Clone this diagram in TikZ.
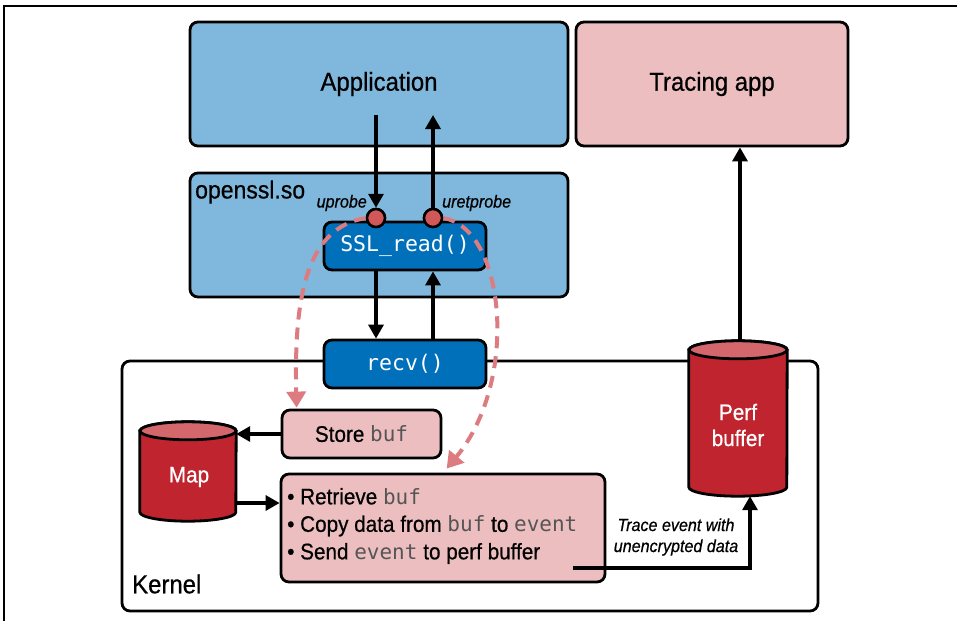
\documentclass[tikz,border=0pt]{standalone}
\usepackage{fontspec}
\setmainfont{Liberation Sans}[FakeStretch=0.92,FakeBold=0.6]
\setmonofont{DejaVu Sans Mono}
\usetikzlibrary{arrows.meta,calc}
\definecolor{lblue}{HTML}{80B8DD}
\definecolor{dblue}{HTML}{0070BB}
\definecolor{lpink}{HTML}{EDBEC0}
\definecolor{cylred}{HTML}{C0242E}
\definecolor{cyltop}{HTML}{D4676B}
\definecolor{probe}{HTML}{D15759}
\definecolor{dashpink}{HTML}{DC7B80}
\definecolor{codegray}{HTML}{555555}
\newcommand\mycyl[2]{%
  \path[draw=black,line width=2.8,fill=cylred]
    (#1.north west) -- (#1.south west)
    arc[start angle=180,end angle=360,x radius=#2pt,y radius=9pt]
    -- (#1.north east)
    arc[start angle=0,end angle=180,x radius=#2pt,y radius=9pt] -- cycle;
  \path[draw=black,line width=2.8,fill=cyltop] (#1.north) ellipse[x radius=#2pt,y radius=9pt];}
\newcommand\cc[1]{{\fontsize{21}{24}\selectfont\ttfamily\color{codegray}#1}}
\begin{document}
\begin{tikzpicture}[x=1pt,y=-1pt,
  box/.style={draw,line width=2.8,rounded corners=8,inner sep=0,align=center},
  lbox/.style={box,fill=lblue},
  pbox/.style={box,fill=lpink},
  dbox/.style={box,fill=dblue,text=white,font=\fontsize{21.5}{24}\selectfont\ttfamily},
  head/.style={font=\fontsize{26}{30}\selectfont},
  body/.style={font=\fontsize{22.5}{27}\selectfont},
  itl/.style={font=\fontsize{17.5}{21}\selectfont\itshape},
  arr/.style={line width=3.3,-{Triangle[width=15pt,length=14pt]}},
  dasharr/.style={line width=4,dashpink,dash pattern=on 12pt off 8pt,
    -{Triangle[width=19pt,length=16pt,fill=dashpink]}},
  probecirc/.style={circle,draw,line width=2.5,fill=probe,minimum size=18pt,inner sep=0},
  cylnode/.style={inner sep=0,text=white,align=center,font=\fontsize{22.5}{26}\selectfont}]
\useasboundingbox (0,0) rectangle (957,621);
\draw[line width=1.5] (4,621) -- (4,6) -- (957,6);

% top boxes
\node[lbox,head,minimum width=378pt,minimum height=124pt] (app) at (379,84) {Application};
\node[pbox,head,minimum width=272pt,minimum height=124pt] (trace) at (712,84) {Tracing app};

% openssl
\node[lbox,minimum width=378pt,minimum height=124pt] (ssl) at (379,235) {};
\node[anchor=west,inner sep=0,font=\fontsize{25}{28}\selectfont] (ssllbl) at (195,192) {openssl.so};
\node[dbox,minimum width=162pt,minimum height=48pt] (sslread) at (405,246) {SSL\_read()};

% kernel
\node[box,minimum width=696pt,minimum height=250pt] (kernel) at (470,486) {};
\node[anchor=west,inner sep=0,font=\fontsize{26}{28}\selectfont] (klbl) at (132,584) {Kernel};
\node[dbox,minimum width=162pt,minimum height=48pt] (recv) at (405,364) {recv()};

\node[pbox,body,minimum width=159pt,minimum height=48pt] (store) at (361.5,434) {Store \cc{buf}};
\node[pbox,minimum width=324pt,minimum height=108pt] (retrieve) at (443,528) {};
\node[anchor=west,inner sep=0,align=left,body,font=\fontsize{22.5}{27.5}\selectfont] (rtext) at (287,526)
  {• Retrieve \cc{buf}\\• Copy data from \cc{buf} to \cc{event}\\• Send \cc{event} to perf buffer};

% cylinders
\node[cylnode,minimum width=96pt,minimum height=81pt] (map) at (188,471.5) {};
\mycyl{map}{48}
\node[cylnode] (maptxt) at (189,477) {Map};
\node[cylnode,minimum width=98pt,minimum height=137pt] (perf) at (738,418.5) {};
\mycyl{perf}{49}
\node[cylnode,font=\fontsize{22.5}{26}\selectfont] (perftxt) at (738,425) {Perf\\buffer};

% probe points
\node[probecirc] (up) at (376,218) {};
\node[probecirc] (uret) at (433,218) {};
\node[itl,anchor=east,inner sep=0] (uplbl) at (367,203) {uprobe};
\node[itl,anchor=west,inner sep=0] (uretlbl) at (442,203) {uretprobe};

% dashed probe flows
\draw[dasharr] (up.west) .. controls (305,228) and (294,300) .. ($(store.north west)+(16,-1)$);
\draw[dasharr] (uret.east) .. controls (505,228) and (520,380) .. ($(retrieve.north west)+(167,-4)$);
\node[probecirc] at (up) {};
\node[probecirc] at (uret) {};

% solid arrows
\coordinate (appout) at (376,115);
\coordinate (appin) at (433,115);
\draw[arr] (appout) -- (up.north);
\draw[arr] (uret.north) -- (appin);
\draw[arr] (sslread.south -| up) -- (recv.north -| up);
\draw[arr] (recv.north -| uret) -- (sslread.south -| uret);
\draw[arr] ($(perf.north)+(2,-9)$) -- (trace.south -| {$(perf.north)+(2,0)$});
\draw[arr] (store.west) -- (store.west -| map.east);
\coordinate (mapout) at ($(map.east)+(0,31.5)$);
\draw[arr] (mapout) -- (mapout -| retrieve.west);
\coordinate (trstart) at (573,568);
\coordinate (perfin) at ($(perf.south)+(12,9)$);
\draw[line width=3.3,-{Triangle[width=15pt,length=14pt]}] (trstart) -| (perfin);
\node[itl,align=center,inner sep=0,font=\fontsize{17.5}{21}\selectfont\itshape] (trlbl) at (676,537) {Trace event with\\unencrypted data};
\end{tikzpicture}
\end{document}
